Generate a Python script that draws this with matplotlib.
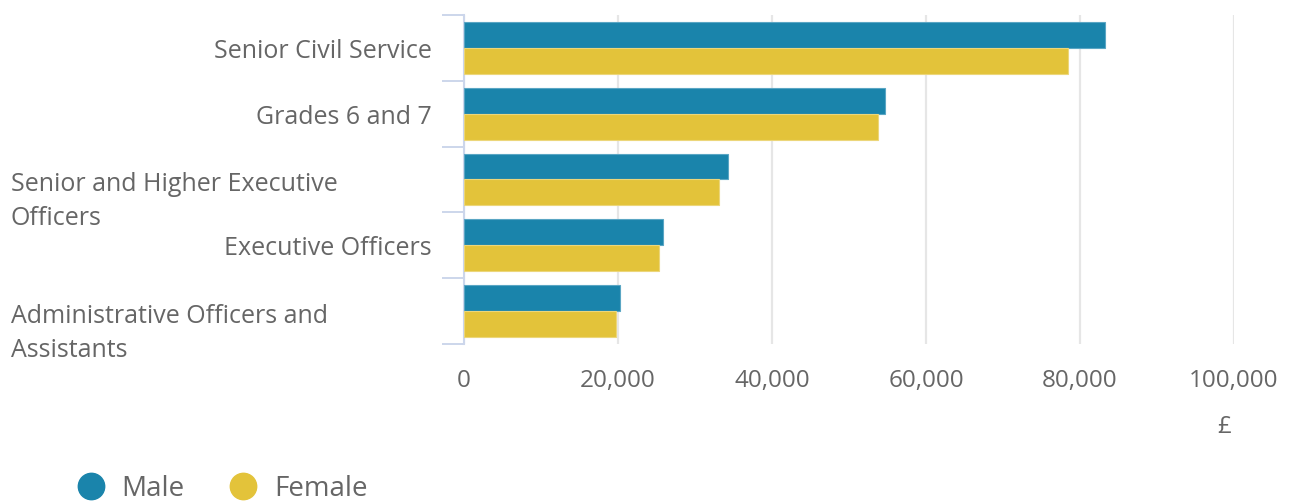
import matplotlib.pyplot as plt
import matplotlib.transforms as mtransforms
from matplotlib.lines import Line2D
import numpy as np

plt.rcParams['font.family'] = ['Open Sans', 'DejaVu Sans']

# data
grades = ["Senior Civil Service", "Grades 6 and 7",
          "Senior and Higher Executive\nOfficers", "Executive Officers",
          "Administrative Officers and\nAssistants"]
male_pay = [83200, 54700, 34300, 25900, 20300]
female_pay = [78500, 53800, 33100, 25300, 19700]
x_ticks = [0, 20000, 40000, 60000, 80000, 100000]
x_tick_labels = ["0", "20,000", "40,000", "60,000", "80,000", "100,000"]

male_col = '#1a84ab'
female_col = '#e3c33a'
text_col = '#666666'

fig = plt.figure(figsize=(12.89, 5.01), dpi=100)
ax = fig.add_axes([464 / 1289, 1 - 344 / 501, (1234 - 464) / 1289, (344 - 15) / 501])

y = np.arange(len(grades))
bar_h = 0.395
ax.barh(y - bar_h / 2, male_pay, height=bar_h, color=male_col, edgecolor='#5aa6c4',
        linewidth=0.8, zorder=3)
ax.barh(y + bar_h / 2, female_pay, height=bar_h, color=female_col, edgecolor='#ecd67a',
        linewidth=0.8, zorder=3)

ax.set_xlim(0, 100000)
ax.set_ylim(len(grades) - 0.5, -0.5)

ax.set_xticks(x_ticks)
ax.set_xticklabels(x_tick_labels)
ax.tick_params(axis='x', length=0, pad=18, labelsize=17.5, labelcolor=text_col)
ax.grid(axis='x', color='#e6e6e6', linewidth=1.6, zorder=0)

# category boundaries carry the tick marks
ax.set_yticks(np.arange(len(grades) + 1) - 0.5)
ax.set_yticklabels([])
ax.tick_params(axis='y', length=16, width=1.4, color='#ccd6eb')

for s in ['top', 'right', 'bottom']:
    ax.spines[s].set_visible(False)
ax.spines['left'].set_color('#ccd6eb')
ax.spines['left'].set_linewidth(1.5)

# category labels: short ones right aligned, wrapped ones left aligned
tr_base = mtransforms.blended_transform_factory(fig.transFigure, ax.transData)
for i, lab in enumerate(grades):
    if '\n' in lab:
        tr = mtransforms.offset_copy(tr_base, fig=fig, x=0, y=-16, units='points')
        ax.text(11 / 1289, i, lab, transform=tr, ha='left', va='center',
                fontsize=18, color=text_col, linespacing=1.45)
    else:
        tr = mtransforms.offset_copy(tr_base, fig=fig, x=0, y=-2.5, units='points')
        ax.text(432 / 1289, i, lab, transform=tr, ha='right', va='center',
                fontsize=18, color=text_col)

fig.text(1224 / 1289, 1 - 427 / 501, "£", ha='center', va='center',
         fontsize=17.5, color=text_col)

handles = [Line2D([], [], marker='o', ls='', ms=19, color=male_col),
           Line2D([], [], marker='o', ls='', ms=19, color=female_col)]
fig.legend(handles, ["Male", "Female"], loc='center left', bbox_to_anchor=(0.038, 0.024),
           ncol=2, frameon=False, fontsize=20, labelcolor=text_col,
           handletextpad=0.51, columnspacing=1.5, handlelength=1.2)

fig.savefig('out.png', dpi=100)
